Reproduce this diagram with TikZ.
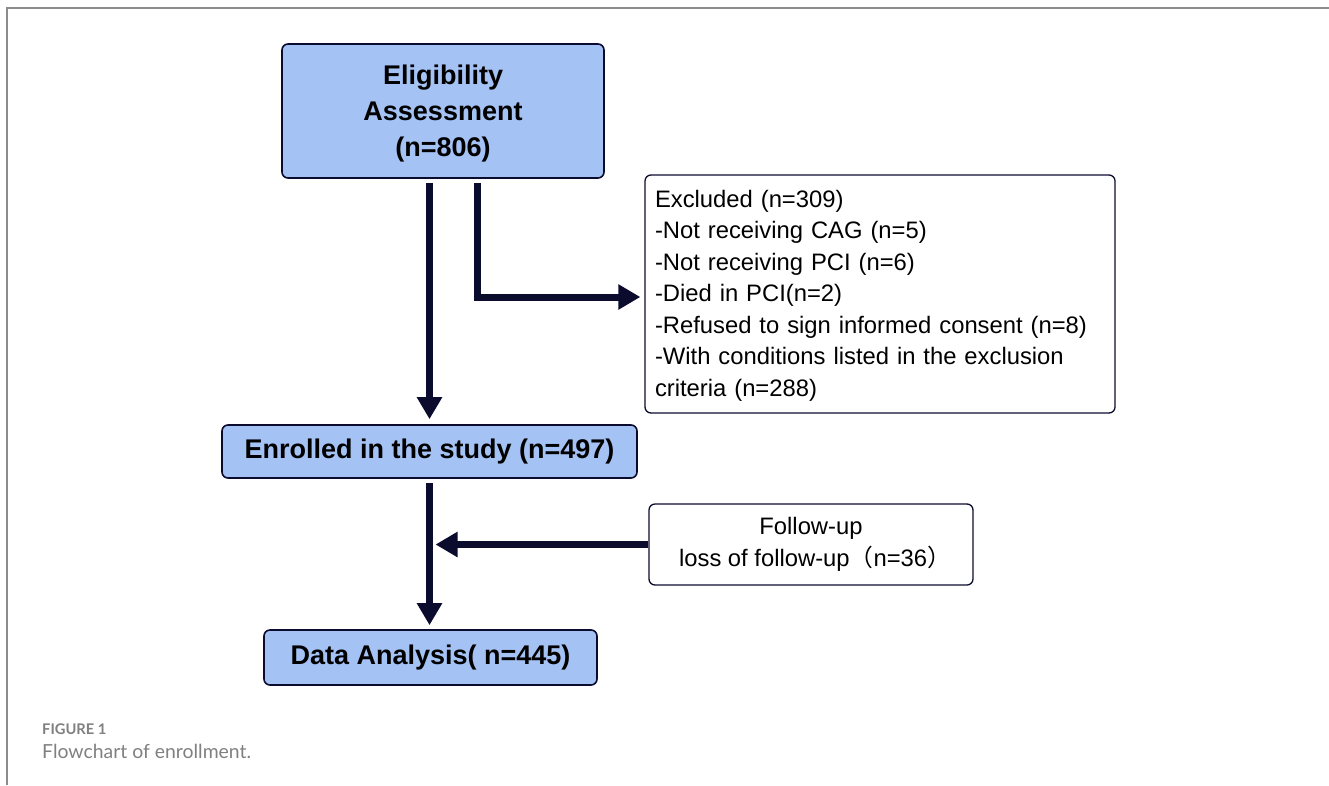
\documentclass[tikz,border=0pt]{standalone}
\usepackage{fontspec}
\setmainfont{Liberation Sans}
\newfontfamily\capfont{Lato}
\newfontfamily\cjk{Noto Sans CJK SC}
\usetikzlibrary{positioning, arrows.meta, calc}

\definecolor{boxblue}{HTML}{A4C2F4}
\definecolor{navy}{HTML}{0B0B2E}

\begin{document}
\begin{tikzpicture}[
  x=1pt, y=-1pt,
  stage/.style={draw=navy, line width=1.6pt, fill=boxblue, rounded corners=6pt, align=center,
    inner sep=0pt, font=\fontsize{27}{36}\selectfont\bfseries},
  note/.style={draw=navy, line width=1.3pt, fill=white, rounded corners=6pt,
    inner sep=10pt, font=\fontsize{23.8}{31.5}\selectfont},
  flow/.style={-{Triangle[length=22pt, width=24pt]}, line width=7pt, draw=navy}
]
\useasboundingbox (0,0) rectangle (1329,785);

% frame
\draw[gray!90, line width=1.5pt] (7,785) -- (7,8) -- (1329,8);

% main column
\node[stage, minimum width=322, minimum height=134] (elig) at (443,111)
  {\rule{0pt}{24pt}Eligibility\\Assessment\\(n=806)};
\node[stage, minimum width=415, minimum height=53] (enrol) at (429.5,451.5)
  {Enrolled in the study (n=497)};
\node[stage, minimum width=333, minimum height=55] (data) at (430.5,657.5)
  {Data Analysis( n=445)};

% side notes
\node[note, align=left, text width=450, minimum height=238] (excl) at (880,294)
  {\rule{0pt}{20pt}Excluded (n=309)\\
   -Not receiving CAG (n=5)\\
   -Not receiving PCI (n=6)\\
   -Died in PCI(n=2)\\
   -Refused to sign informed consent (n=8)\\
   -With conditions listed in the exclusion\\
   criteria (n=288)};
\node[note, align=center, minimum width=324, minimum height=81] (fu) at (811,544.5)
  {Follow-up\\\hspace*{8pt}loss of follow-up{\cjk（}n=36{\cjk）}};

% connectors
\draw[flow, shorten <=4pt, shorten >=5pt] (elig.south -| enrol.north) -- (enrol.north);
\draw[flow, shorten <=4pt, shorten >=4pt] ($(elig.south)+(34,0)$) |- ($(excl.west)+(0,3)$);
\draw[flow, shorten <=4pt, shorten >=4pt] (enrol.south) -- (enrol.south |- data.north);
\draw[flow, shorten >=6pt] (fu.west) -- (fu.west -| enrol.south);

% caption
\node[anchor=base west, inner sep=0pt, text=gray, font=\capfont\bfseries\fontsize{14.7}{16}\selectfont]
  (fig) at (42,734) {FIGURE 1};
\node[anchor=base west, inner sep=0pt, text=gray, font=\capfont\fontsize{19.4}{20}\selectfont]
  (cap) at (42,758) {Flowchart of enrollment.};
\end{tikzpicture}
\end{document}
